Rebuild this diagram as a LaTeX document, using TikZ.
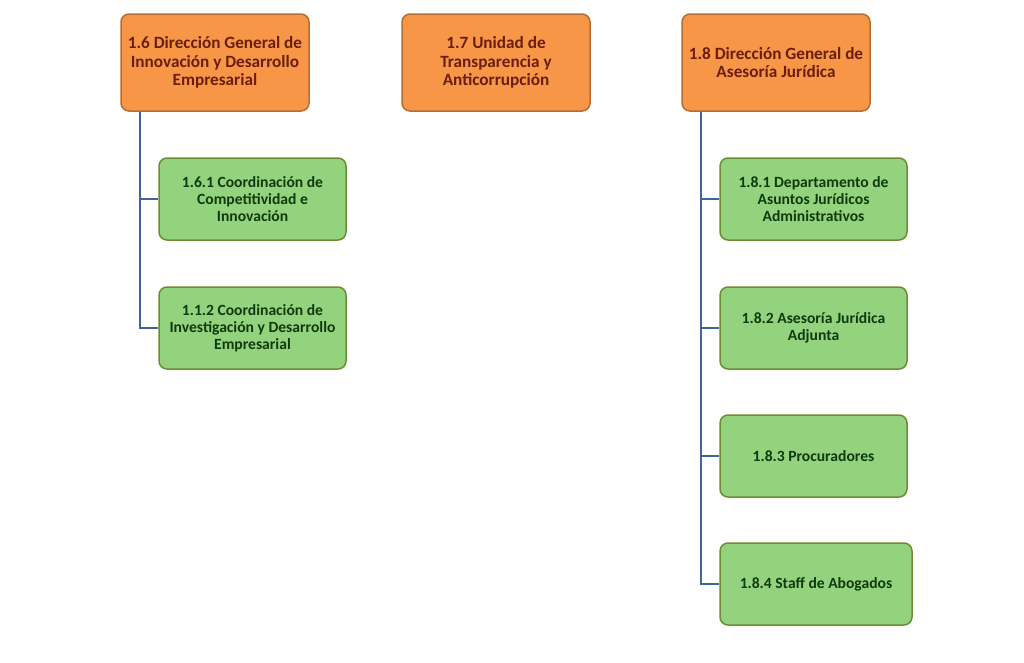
\documentclass[tikz,border=0pt]{standalone}
\usepackage{fontspec}
\setmainfont{Carlito}
\definecolor{dirfill}{HTML}{F79646}
\definecolor{dirdraw}{HTML}{B66D31}
\definecolor{dirtext}{HTML}{6A1E0E}
\definecolor{coordfill}{HTML}{93D37D}
\definecolor{coorddraw}{HTML}{6B8E35}
\definecolor{coordtext}{HTML}{0E3A0E}
\definecolor{connblue}{HTML}{40659C}
\tikzset{
  direccion/.style={draw=dirdraw, fill=dirfill, line width=1.5pt, rounded corners=8pt,
    minimum width=188pt, minimum height=97pt, align=center, text=dirtext,
    font=\bfseries\fontsize{17.2}{18.8}\selectfont},
  coordina/.style={draw=coorddraw, fill=coordfill, line width=1.5pt, rounded corners=8pt,
    minimum width=187pt, minimum height=82pt, align=center, text=coordtext,
    font=\bfseries\fontsize{15.6}{16.8}\selectfont},
  enlace/.style={draw=connblue, line width=1.5pt}
}
\begin{document}
\begin{tikzpicture}[x=1pt,y=-1pt]
    \useasboundingbox (0,0) rectangle (1024,662);
    % direcciones
    \node[direccion] (d16) at (215,62.5) {1.6 Dirección General de\\Innovación y Desarrollo\\Empresarial};
    \node[direccion] (d17) at (496,62.5) {1.7 Unidad de\\Transparencia y\\Anticorrupción};
    \node[direccion] (d18) at (776,62.5) {1.8 Dirección General de\\Asesoría Jurídica};
    % coordinaciones
    \node[coordina] (c161) at (252.5,199) {1.6.1 Coordinación de\\Competitividad e\\Innovación};
    \node[coordina] (c112) at (252.5,328) {1.1.2 Coordinación de\\Investigación y Desarrollo\\Empresarial};
    \node[coordina] (c181) at (813.5,199) {1.8.1 Departamento de\\Asuntos Jurídicos\\Administrativos};
    \node[coordina] (c182) at (813.5,328) {1.8.2 Asesoría Jurídica\\Adjunta};
    \node[coordina] (c183) at (813.5,456) {1.8.3 Procuradores};
    \node[coordina, minimum width=192pt] (c184) at (816,584) {1.8.4 Staff de Abogados};
    % enlaces
    \draw[enlace] ([xshift=-75pt]d16.south) |- (c161.west);
    \draw[enlace] ([xshift=-75pt]d16.south) |- (c112.west);
    \draw[enlace] ([xshift=-75pt]d18.south) |- (c181.west);
    \draw[enlace] ([xshift=-75pt]d18.south) |- (c182.west);
    \draw[enlace] ([xshift=-75pt]d18.south) |- (c183.west);
    \draw[enlace] ([xshift=-75pt]d18.south) |- (c184.west);
\end{tikzpicture}
\end{document}
